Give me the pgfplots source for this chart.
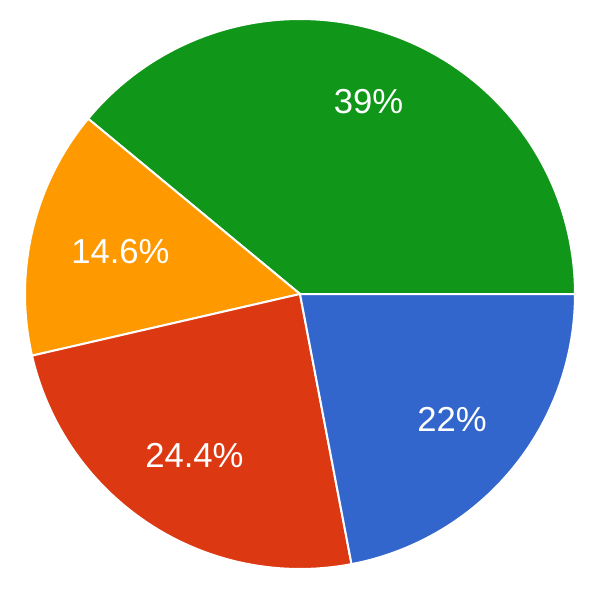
\documentclass[border=0pt]{standalone}
\usepackage{pgfplots}
\pgfplotsset{compat=1.18}
\usepackage{fontspec}
\setmainfont{Liberation Sans}
\definecolor{cgreen}{HTML}{109618}
\definecolor{corange}{HTML}{FF9900}
\definecolor{cred}{HTML}{DC3912}
\definecolor{cblue}{HTML}{3366CC}
\begin{document}
\begin{tikzpicture}
\begin{axis}[
  width=456pt, height=456pt, scale only axis,
  hide axis, clip=false,
  xmin=-1.0909, xmax=1.1200, ymin=-1.1418, ymax=1.0691,
]
\path[draw=none, fill=none] (rel axis cs:0,0) rectangle (rel axis cs:1,1);
% slices (percent): green 39, orange 14.6, red 24.4, blue 22 -> angles from 0 deg, counter-clockwise
\addplot[draw=white, line width=1.5pt, fill=cgreen, domain=0:140.4, samples=90]
  ({cos(x)},{sin(x)}) -- (axis cs:0,0) -- cycle;
\addplot[draw=white, line width=1.5pt, fill=corange, domain=140.4:192.96, samples=40]
  ({cos(x)},{sin(x)}) -- (axis cs:0,0) -- cycle;
\addplot[draw=white, line width=1.5pt, fill=cred, domain=192.96:280.8, samples=60]
  ({cos(x)},{sin(x)}) -- (axis cs:0,0) -- cycle;
\addplot[draw=white, line width=1.5pt, fill=cblue, domain=280.8:360, samples=60]
  ({cos(x)},{sin(x)}) -- (axis cs:0,0) -- cycle;
\node[text=white, font=\fontsize{26}{30}\selectfont] at (axis cs:0.249,0.698) {39\%};
\node[text=white, font=\fontsize{26}{30}\selectfont] at (axis cs:-0.653,0.153) {14.6\%};
\node[text=white, font=\fontsize{26}{30}\selectfont] at (axis cs:-0.384,-0.589) {24.4\%};
\node[text=white, font=\fontsize{26}{30}\selectfont] at (axis cs:0.553,-0.458) {22\%};
\end{axis}
\end{tikzpicture}
\end{document}
